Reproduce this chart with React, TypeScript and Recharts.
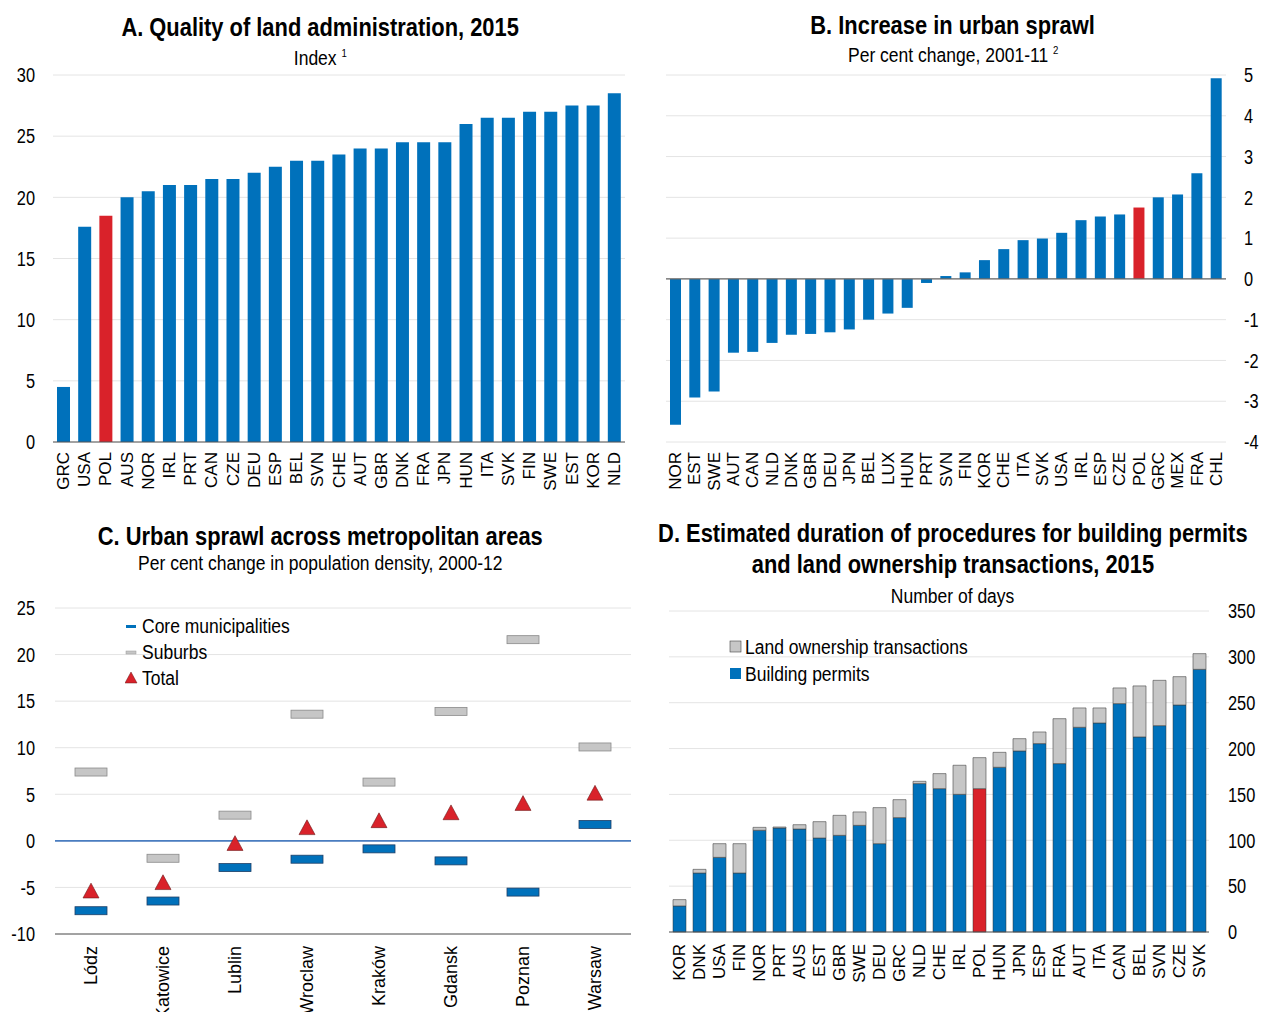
import React from "react";
import {
  BarChart, Bar, Cell, XAxis, YAxis, CartesianGrid, ReferenceLine,
  ComposedChart, Line,
} from "recharts";

// ---- data ----
const catsA = ["GRC","USA","POL","AUS","NOR","IRL","PRT","CAN","CZE","DEU","ESP","BEL","SVN","CHE","AUT","GBR","DNK","FRA","JPN","HUN","ITA","SVK","FIN","SWE","EST","KOR","NLD"];
const valsA = [4.5,17.6,18.5,20,20.5,21,21,21.5,21.5,22,22.5,23,23,23.5,24,24,24.5,24.5,24.5,26,26.5,26.5,27,27,27.5,27.5,28.5];
const ticksA = [0,5,10,15,20,25,30];

const catsB = ["NOR","EST","SWE","AUT","CAN","NLD","DNK","GBR","DEU","JPN","BEL","LUX","HUN","PRT","SVN","FIN","KOR","CHE","ITA","SVK","USA","IRL","ESP","CZE","POL","GRC","MEX","FRA","CHL"];
const valsB = [-3.58,-2.91,-2.76,-1.81,-1.79,-1.57,-1.37,-1.35,-1.31,-1.24,-1.0,-0.85,-0.71,-0.1,0.07,0.16,0.46,0.73,0.95,0.99,1.13,1.44,1.53,1.58,1.75,2.0,2.07,2.59,4.92];
const ticksB = [-4,-3,-2,-1,0,1,2,3,4,5];

const cities = ["Lódz","Katowice","Lublin","Wroclaw","Kraków","Gdansk","Poznan","Warsaw"];
const coreC = [-7.5,-6.46,-2.87,-1.97,-0.86,-2.15,-5.5,1.76];
const suburbsC = [7.39,-1.87,2.76,13.6,6.31,13.9,21.6,10.08];
const totalC = [-5.4,-4.5,-0.3,1.4,2.15,3.0,4.0,5.1];
const ticksC = [-10,-5,0,5,10,15,20,25];

const catsD = ["KOR","DNK","USA","FIN","NOR","PRT","AUS","EST","GBR","SWE","DEU","GRC","NLD","CHE","IRL","POL","HUN","JPN","ESP","FRA","AUT","ITA","CAN","BEL","SVN","CZE","SVK"];
const buildingD = [28.4,64.3,81.4,64.3,110.9,113.4,112.3,102.5,105.4,116.3,96.3,124.7,161.8,156.3,150.1,156.3,179.6,197.4,205.4,183.6,223.2,227.9,249,212.7,225,247.5,286.4];
const landD = [6.9,4,14.9,32,3.2,1.1,4.7,17.8,21.8,14.6,39.3,19.6,2.5,16.4,31.7,33.8,16.3,13.4,12.7,49,21.1,16.4,17.1,55.6,49.4,30.9,17.1];
const ticksD = [0,50,100,150,200,250,300,350];

const BLUE = "#0071bb";
const RED = "#d9222a";
const GREY = "#c6c6c6";
const GRID = "#e4e4e4";
const SANS = "'Liberation Sans', Arial, sans-serif";

const dataA = catsA.map((c, i) => ({ c, v: valsA[i] }));
const dataB = catsB.map((c, i) => ({ c, v: valsB[i] }));
const dataC = cities.map((c, i) => ({ c, core: coreC[i], sub: suburbsC[i], tot: totalC[i] }));
const dataD = catsD.map((c, i) => ({ c, b: buildingD[i], l: landD[i] }));

const RotTick = (p: any) => (
  <text
    transform={`translate(${p.x},${p.y}) rotate(-90)`}
    textAnchor="end"
    dominantBaseline="central"
    fontSize={p.fs || 17}
    fontFamily={SANS}
    fill="#000"
  >
    {p.payload.value}
  </text>
);

// value labels are a squeezed sans to look like the narrow face in the original
const NumTick = (p: any) => (
  <text
    transform={`translate(${p.x},${p.y}) scale(0.78,1)`}
    textAnchor={p.anchor || "end"}
    dominantBaseline="central"
    fontSize={21}
    fontFamily={SANS}
    fill="#000"
  >
    {p.payload.value}
  </text>
);

const Dash = (p: any) => {
  if (p.cx == null || p.cy == null) return null;
  return (
    <rect x={p.cx - 16} y={p.cy - 4} width={32} height={8}
      fill={p.fill} stroke={p.stroke} strokeWidth={0.8} />
  );
};

const Tri = (p: any) => {
  if (p.cx == null || p.cy == null) return null;
  const s = 8;
  return (
    <polygon
      points={`${p.cx},${p.cy - s} ${p.cx - s},${p.cy + s * 0.85} ${p.cx + s},${p.cy + s * 0.85}`}
      fill={RED} stroke="#6b1a1a" strokeWidth={0.6}
    />
  );
};

const Narrow = ({ children, origin = "center", s = 0.875 }: any) => (
  <span style={{ display: "inline-block", transform: `scaleX(${s})`, transformOrigin: origin }}>{children}</span>
);

const titleStyle: React.CSSProperties = {
  position: "absolute", fontFamily: SANS, fontWeight: 700, fontSize: 25,
  color: "#000", textAlign: "center", whiteSpace: "nowrap", lineHeight: "30px",
};
const subStyle: React.CSSProperties = {
  position: "absolute", fontFamily: SANS, fontSize: 20, color: "#000",
  textAlign: "center", whiteSpace: "nowrap", lineHeight: "22px",
};
const legStyle: React.CSSProperties = {
  position: "absolute", fontFamily: SANS, fontSize: 20, color: "#000",
  whiteSpace: "nowrap", lineHeight: "24px", display: "flex", alignItems: "center",
};

export default function App() {
  return (
    <div style={{ position: "absolute", left: 0, top: 0, width: 1261, height: 1012, background: "#fff", overflow: "hidden" }}>
      {/* Panel A */}
      <div style={{ ...titleStyle, left: 0, width: 640, top: 12 }}><Narrow>A. Quality of land administration, 2015</Narrow></div>
      <div style={{ ...subStyle, left: 0, width: 640, top: 42 }}><Narrow>Index <sup style={{ fontSize: 11 }}>1</sup></Narrow></div>
      <div style={{ position: "absolute", left: 0, top: 60 }}>
        <BarChart width={640} height={450} data={dataA} margin={{ top: 15, right: 15, bottom: 0, left: 0 }} barSize={13}>
          <CartesianGrid vertical={false} stroke={GRID} />
          <XAxis dataKey="c" interval={0} height={68} tickLine={false} tickSize={0} tickMargin={10}
            axisLine={{ stroke: "#555" }} tick={(p: any) => <RotTick {...p} />} />
          <YAxis domain={[0, 30]} ticks={ticksA} width={53} axisLine={false} tickLine={false}
            tickSize={0} tickMargin={18} tick={(p: any) => <NumTick {...p} />} />
          <Bar dataKey="v" isAnimationActive={false}>
            {dataA.map((d) => <Cell key={d.c} fill={d.c === "POL" ? RED : BLUE} />)}
          </Bar>
        </BarChart>
      </div>

      {/* Panel B */}
      <div style={{ ...titleStyle, left: 600, width: 706, top: 10 }}><Narrow>B. Increase in urban sprawl</Narrow></div>
      <div style={{ ...subStyle, left: 600, width: 706, top: 39 }}><Narrow>Per cent change, 2001-11 <sup style={{ fontSize: 11 }}>2</sup></Narrow></div>
      <div style={{ position: "absolute", left: 640, top: 60 }}>
        <BarChart width={621} height={450} data={dataB} margin={{ top: 15, right: 0, bottom: 0, left: 26 }} barSize={11}>
          <CartesianGrid vertical={false} stroke={GRID} />
          <XAxis dataKey="c" interval={0} height={68} tickLine={false} tickSize={0} tickMargin={10}
            axisLine={false} tick={(p: any) => <RotTick {...p} />} />
          <YAxis orientation="right" domain={[-4, 5]} ticks={ticksB} width={35} axisLine={false}
            tickLine={false} tickSize={0} tickMargin={18} tick={(p: any) => <NumTick {...p} anchor="start" />} />
          <ReferenceLine y={0} stroke="#666" strokeWidth={1.2} />
          <Bar dataKey="v" isAnimationActive={false}>
            {dataB.map((d) => <Cell key={d.c} fill={d.c === "POL" ? RED : BLUE} />)}
          </Bar>
        </BarChart>
      </div>

      {/* Panel C */}
      <div style={{ ...titleStyle, left: 0, width: 640, top: 521 }}><Narrow>C. Urban sprawl across metropolitan areas</Narrow></div>
      <div style={{ ...subStyle, left: 0, width: 640, top: 552 }}><Narrow>Per cent change in population density, 2000-12</Narrow></div>
      <div style={{ position: "absolute", left: 0, top: 590 }}>
        <ComposedChart width={640} height={440} data={dataC} margin={{ top: 18, right: 9, bottom: 0, left: 0 }}>
          <CartesianGrid vertical={false} stroke={GRID} />
          <XAxis dataKey="c" interval={0} height={96} tickLine={false} tickSize={0} tickMargin={12}
            padding={{ left: 36, right: 36 }}
            axisLine={{ stroke: "#555" }} tick={(p: any) => <RotTick {...p} fs={18} />} />
          <YAxis domain={[-10, 25]} ticks={ticksC} width={55} axisLine={false} tickLine={false}
            tickSize={0} tickMargin={20} tick={(p: any) => <NumTick {...p} />} />
          <ReferenceLine y={0} stroke="#4a7dc0" strokeWidth={1.6} />
          <Line dataKey="sub" stroke="none" isAnimationActive={false}
            dot={(p: any) => <Dash key={`s${p.index}`} {...p} fill={GREY} stroke="#8a8a8a" />} activeDot={false} />
          <Line dataKey="core" stroke="none" isAnimationActive={false}
            dot={(p: any) => <Dash key={`c${p.index}`} {...p} fill={BLUE} stroke="#1f3f66" />} activeDot={false} />
          <Line dataKey="tot" stroke="none" isAnimationActive={false}
            dot={(p: any) => <Tri key={`t${p.index}`} {...p} />} activeDot={false} />
        </ComposedChart>
      </div>
      <div style={{ ...legStyle, left: 125, top: 614 }}>
        <svg width={14} height={10} style={{ marginRight: 3 }}><rect x={1} y={4} width={10} height={3} fill={BLUE} /></svg>
        <Narrow origin="left">Core municipalities</Narrow>
      </div>
      <div style={{ ...legStyle, left: 125, top: 640 }}>
        <svg width={14} height={10} style={{ marginRight: 3 }}><rect x={1} y={4} width={10} height={3} fill={GREY} stroke="#999" strokeWidth={0.5} /></svg>
        <Narrow origin="left">Suburbs</Narrow>
      </div>
      <div style={{ ...legStyle, left: 125, top: 666 }}>
        <svg width={14} height={14} style={{ marginRight: 3 }}><polygon points="6,1 0,12 12,12" fill={RED} stroke="#6b1a1a" strokeWidth={0.5} /></svg>
        <Narrow origin="left">Total</Narrow>
      </div>

      {/* Panel D */}
      <div style={{ ...titleStyle, left: 570, width: 766, top: 518 }}><Narrow>D. Estimated duration of procedures for building permits</Narrow></div>
      <div style={{ ...titleStyle, left: 570, width: 766, top: 549 }}><Narrow>and land ownership transactions, 2015</Narrow></div>
      <div style={{ ...subStyle, left: 570, width: 766, top: 585 }}><Narrow>Number of days</Narrow></div>
      <div style={{ position: "absolute", left: 640, top: 600 }}>
        <BarChart width={621} height={420} data={dataD} margin={{ top: 11, right: 0, bottom: 0, left: 29 }} barSize={13}>
          <CartesianGrid vertical={false} stroke={GRID} />
          <XAxis dataKey="c" interval={0} height={88} tickLine={false} tickSize={0} tickMargin={12}
            axisLine={{ stroke: "#555" }} tick={(p: any) => <RotTick {...p} />} />
          <YAxis orientation="right" domain={[0, 350]} ticks={ticksD} width={52} axisLine={false}
            tickLine={false} tickSize={0} tickMargin={19} tick={(p: any) => <NumTick {...p} anchor="start" />} />
          <Bar dataKey="b" stackId="s" isAnimationActive={false} stroke="#333" strokeWidth={0.5}>
            {dataD.map((d) => <Cell key={d.c} fill={d.c === "POL" ? RED : BLUE} />)}
          </Bar>
          <Bar dataKey="l" stackId="s" fill={GREY} isAnimationActive={false} stroke="#444" strokeWidth={0.6} />
        </BarChart>
      </div>
      <div style={{ ...legStyle, left: 729, top: 635 }}>
        <svg width={14} height={14} style={{ marginRight: 2 }}><rect x={1} y={1} width={11} height={11} fill={GREY} stroke="#444" strokeWidth={0.6} /></svg>
        <Narrow origin="left">Land ownership transactions</Narrow>
      </div>
      <div style={{ ...legStyle, left: 729, top: 662 }}>
        <svg width={14} height={14} style={{ marginRight: 2 }}><rect x={1} y={1} width={11} height={11} fill={BLUE} /></svg>
        <Narrow origin="left">Building permits</Narrow>
      </div>
    </div>
  );
}
